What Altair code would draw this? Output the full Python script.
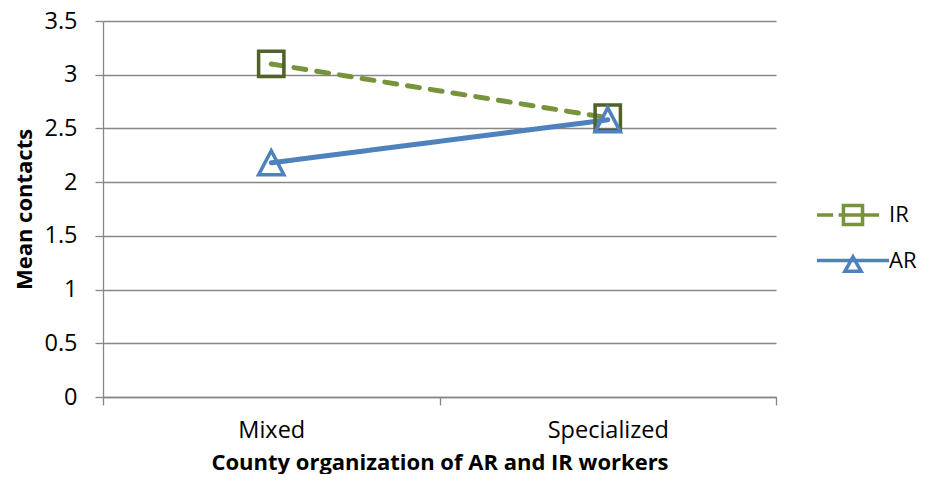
import altair as alt
import pandas as pd

# ---- data ----
categories = ["Mixed", "Specialized"]
series_names = ["IR", "AR"]
ir_values = [3.10, 2.60]
ar_values = [2.18, 2.58]
y_ticks = [0, 0.5, 1, 1.5, 2, 2.5, 3, 3.5]

rows = []
for s, vals in zip(series_names, [ir_values, ar_values]):
    for c, v in zip(categories, vals):
        rows.append({"org": c, "series": s, "mean": v})
df = pd.DataFrame(rows)

FONT = "Open Sans"
LINE_COLORS = ["#77933C", "#4F81BD"]
MARKER_COLORS = ["#4F6228", "#4F81BD"]
GRID = "#878787"

TRI = "M0,-0.95L1,0.95H-1Z"
LEG_IR = "M-2,0H-1.1M-0.8,0H0.5M-0.53,-0.53H0.53V0.53H-0.53ZM0.53,0H1.45"
LEG_AR = "M-2,0H2M0,-0.2L0.45,0.6H-0.45Z"

x_enc = alt.X(
    "org:N",
    sort=categories,
    bandPosition=0.5,
    title="County organization of AR and IR workers",
    scale=alt.Scale(type="band", domain=categories, paddingInner=0, paddingOuter=0),
    axis=alt.Axis(
        labelAngle=0, tickBand="extent", grid=False, labelPadding=13,
        titleBaseline="alphabetic", titleY=72,
    ),
)
y_enc = alt.Y(
    "mean:Q",
    title="Mean contacts",
    scale=alt.Scale(domain=[0, 3.5], nice=False, zero=True),
    axis=alt.Axis(
        values=y_ticks, format="~g", grid=True, labelPadding=18,
        titleBaseline="alphabetic", titleX=-72, titleY=188, titleAngle=-90,
    ),
)

base = alt.Chart(df)

lines = base.mark_line(strokeWidth=5, strokeCap="round").encode(
    x=x_enc,
    y=y_enc,
    color=alt.Color("series:N", scale=alt.Scale(domain=series_names, range=LINE_COLORS), legend=None),
    strokeDash=alt.StrokeDash("series:N", scale=alt.Scale(domain=series_names, range=[[12, 11], [1, 0]]), legend=None),
    detail="series:N",
)

points = base.mark_point(filled=False, strokeWidth=3.5, size=640, opacity=1).encode(
    x=x_enc,
    y=y_enc,
    color=alt.Color("series:N", scale=alt.Scale(domain=series_names, range=MARKER_COLORS), legend=None),
    shape=alt.Shape("series:N", scale=alt.Scale(domain=series_names, range=["square", TRI]), legend=None),
)

leg_kwargs = dict(
    title=None, orient="none", legendX=730, legendY=174, symbolSize=1296,
    symbolStrokeWidth=3.5, rowPadding=8.5, labelOffset=16, padding=0,
    labelFont=FONT, labelFontSize=22, labelColor="#000000", symbolFillColor="transparent",
)
legend_layer = base.transform_filter("false").mark_point(filled=False, strokeWidth=3.5, opacity=1).encode(
    x=x_enc,
    y=y_enc,
    color=alt.Color("series:N", scale=alt.Scale(domain=series_names, range=LINE_COLORS), legend=alt.Legend(**leg_kwargs)),
    shape=alt.Shape("series:N", scale=alt.Scale(domain=series_names, range=[LEG_IR, LEG_AR]), legend=alt.Legend(**leg_kwargs)),
)

chart = (
    alt.layer(lines, points, legend_layer)
    .resolve_scale(color="independent", shape="independent", strokeDash="independent")
    .properties(
        width=673, height=376,
        autosize=alt.AutoSizeParams(type="none"),
        padding={"left": 95, "top": 13, "right": 142, "bottom": 77},
    )
    .configure_view(stroke=None)
    .configure_axis(
        labelFont=FONT, titleFont=FONT, labelFontSize=23.5, titleFontSize=22,
        labelColor="#000000", titleColor="#000000", titleFontWeight="bold",
        domainColor=GRID, tickColor=GRID, gridColor=GRID,
        domainWidth=1.3, tickWidth=1.3, gridWidth=1.3, tickSize=8,
    )
)

chart.save("out.html", embed_options={"renderer": "svg", "actions": False})
